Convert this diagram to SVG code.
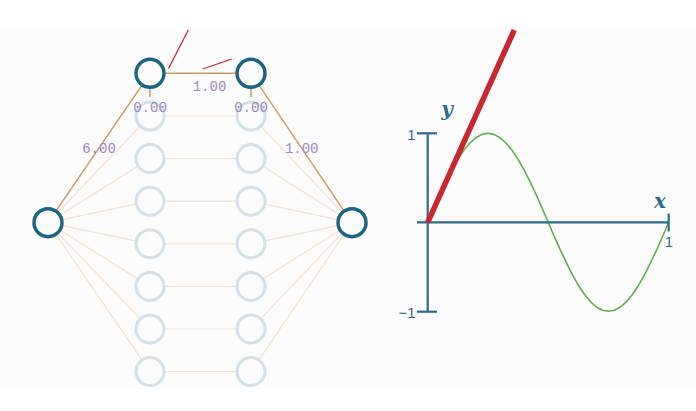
<svg xmlns="http://www.w3.org/2000/svg" width="696" height="411" viewBox="0 0 696 411">
<style>
.bg{fill:#fcfcfc}
.faint{stroke:#f3e2d1;stroke-width:1.2;fill:none}
.strong{stroke:#d09a5c;stroke-width:1.5;fill:none}
.hid{fill:#fcfcfc;stroke:#d4dfe6;stroke-width:3}
.act{fill:#fcfcfc;stroke:#1d6483;stroke-width:3.5}
.w{font-family:"Liberation Mono","DejaVu Sans Mono",monospace;font-size:14px;fill:#9b89c4;text-anchor:middle}
.ax{stroke:#2d6b8c;stroke-width:2.2;fill:none}
.tk{font-family:"Liberation Sans","DejaVu Sans",sans-serif;font-size:15px;fill:#2d6b8c}
.var{font-family:"DejaVu Serif","Liberation Serif",serif;font-style:italic;font-weight:bold;font-size:20px;fill:#2d6b8c}
.red{stroke:#c8282d;fill:none;stroke-linecap:butt}
</style>
<rect width="696" height="411" fill="#ffffff"/>
<rect class="bg" x="0" y="28" width="696" height="360"/>
<g id="connectors">
<g class="faint">
<line x1="48" y1="222.7" x2="150" y2="116"/>
<line x1="48" y1="222.7" x2="150" y2="158.6"/>
<line x1="48" y1="222.7" x2="150" y2="201.2"/>
<line x1="48" y1="222.7" x2="150" y2="243.8"/>
<line x1="48" y1="222.7" x2="150" y2="286.4"/>
<line x1="48" y1="222.7" x2="150" y2="329"/>
<line x1="48" y1="222.7" x2="150" y2="371.6"/>
<line x1="150" y1="116" x2="251" y2="116"/>
<line x1="150" y1="158.6" x2="251" y2="158.6"/>
<line x1="150" y1="201.2" x2="251" y2="201.2"/>
<line x1="150" y1="243.8" x2="251" y2="243.8"/>
<line x1="150" y1="286.4" x2="251" y2="286.4"/>
<line x1="150" y1="329" x2="251" y2="329"/>
<line x1="150" y1="371.6" x2="251" y2="371.6"/>
<line x1="251" y1="116" x2="352" y2="222.7"/>
<line x1="251" y1="158.6" x2="352" y2="222.7"/>
<line x1="251" y1="201.2" x2="352" y2="222.7"/>
<line x1="251" y1="243.8" x2="352" y2="222.7"/>
<line x1="251" y1="286.4" x2="352" y2="222.7"/>
<line x1="251" y1="329" x2="352" y2="222.7"/>
<line x1="251" y1="371.6" x2="352" y2="222.7"/>
</g>
<g class="strong">
<line x1="48" y1="222.7" x2="150" y2="73.3"/>
<line x1="150" y1="73.3" x2="251" y2="73.3"/>
<line x1="251" y1="73.3" x2="352" y2="222.7"/>
<line x1="150" y1="88" x2="150" y2="97"/>
<line x1="251" y1="88" x2="251" y2="97"/>
</g>
<g class="red" stroke-width="1.3">
<line x1="168.5" y1="68.5" x2="188.3" y2="30"/>
<line x1="202.7" y1="69" x2="231.7" y2="59"/>
</g>
</g>
<g id="n-in"><circle class="act" cx="48" cy="222.7" r="14"/></g>
<g id="n-out"><circle class="act" cx="352" cy="222.7" r="14"/></g>
<g id="h1-1"><circle class="act" cx="150" cy="73.3" r="14"/></g>
<g id="h2-1"><circle class="act" cx="251" cy="73.3" r="14"/></g>
<g id="h1-2"><circle class="hid" cx="150" cy="116" r="14"/></g>
<g id="h1-3"><circle class="hid" cx="150" cy="158.6" r="14"/></g>
<g id="h1-4"><circle class="hid" cx="150" cy="201.2" r="14"/></g>
<g id="h1-5"><circle class="hid" cx="150" cy="243.8" r="14"/></g>
<g id="h1-6"><circle class="hid" cx="150" cy="286.4" r="14"/></g>
<g id="h1-7"><circle class="hid" cx="150" cy="329" r="14"/></g>
<g id="h1-8"><circle class="hid" cx="150" cy="371.6" r="14"/></g>
<g id="h2-2"><circle class="hid" cx="251" cy="116" r="14"/></g>
<g id="h2-3"><circle class="hid" cx="251" cy="158.6" r="14"/></g>
<g id="h2-4"><circle class="hid" cx="251" cy="201.2" r="14"/></g>
<g id="h2-5"><circle class="hid" cx="251" cy="243.8" r="14"/></g>
<g id="h2-6"><circle class="hid" cx="251" cy="286.4" r="14"/></g>
<g id="h2-7"><circle class="hid" cx="251" cy="329" r="14"/></g>
<g id="h2-8"><circle class="hid" cx="251" cy="371.6" r="14"/></g>
<g id="labels">
<text class="w" x="209.5" y="90.5">1.00</text>
<text class="w" x="150" y="112">0.00</text>
<text class="w" x="251" y="112">0.00</text>
<text class="w" x="99" y="152.5">6.00</text>
<text class="w" x="301.7" y="152.5">1.00</text>
</g>
<g id="plot">
<polyline fill="none" stroke="#5cb04c" stroke-width="1.6" stroke-linejoin="round" points="427.7,222.3 433.7,208.4 439.8,194.8 445.8,181.9 451.8,170.0 457.8,159.4 463.9,150.3 469.9,143.0 475.9,137.7 481.9,134.4 488.0,133.3 494.0,134.4 500.0,137.7 506.0,143.0 512.1,150.3 518.1,159.4 524.1,170.0 530.1,181.9 536.2,194.8 542.2,208.4 548.2,222.3 554.2,236.2 560.3,249.8 566.3,262.7 572.3,274.6 578.3,285.2 584.4,294.3 590.4,301.6 596.4,307.0 602.4,310.2 608.5,311.3 614.5,310.2 620.5,307.0 626.5,301.6 632.6,294.3 638.6,285.2 644.6,274.6 650.6,262.7 656.7,249.8 662.7,236.2 668.7,222.3"/>
<g class="ax">
<line x1="427.7" y1="133.3" x2="427.7" y2="311.7"/>
<line x1="417" y1="133.3" x2="437" y2="133.3"/>
<line x1="417" y1="311.7" x2="437" y2="311.7"/>
<line x1="417" y1="222.3" x2="668.7" y2="222.3"/>
<line x1="668.7" y1="213.5" x2="668.7" y2="231.5"/>
</g>
<line class="red" stroke-width="5.5" x1="427.7" y1="222.3" x2="514.3" y2="30"/>
<text class="tk" x="415.5" y="139.5" text-anchor="end">1</text>
<text class="tk" x="415.5" y="317.5" text-anchor="end">−1</text>
<text class="tk" x="669" y="246.5" text-anchor="middle">1</text>
<text class="var" x="447" y="115.5" text-anchor="middle">y</text>
<text class="var" x="660" y="208" text-anchor="middle">x</text>
</g>
</svg>
